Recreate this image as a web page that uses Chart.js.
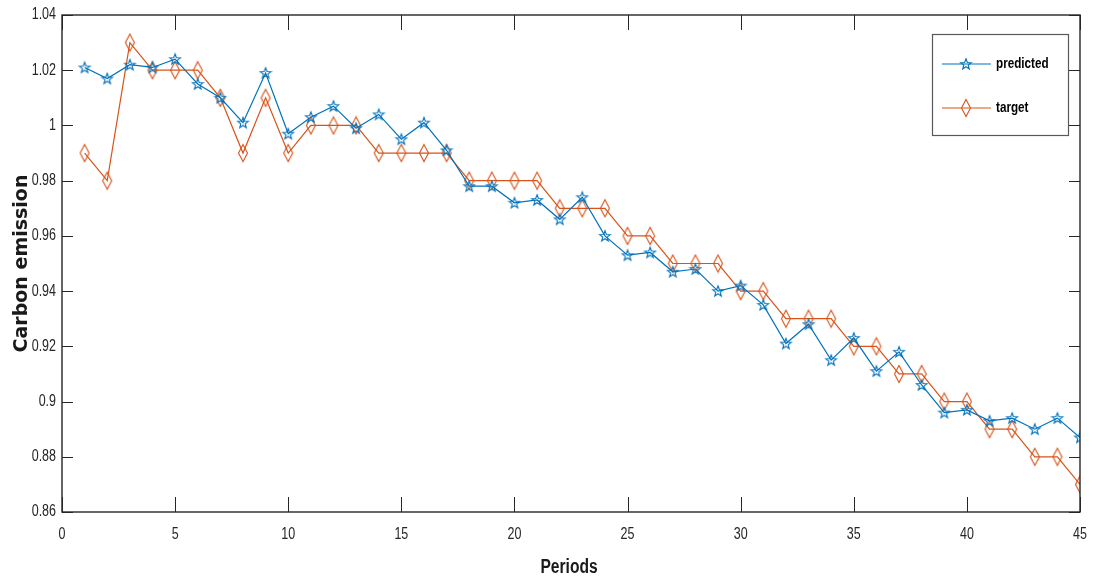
<!DOCTYPE html>
<html>
<head>
<meta charset="utf-8">
<script src="https://cdn.jsdelivr.net/npm/chart.js@4.4.1/dist/chart.umd.min.js"></script>
<style>
    html, body { margin: 0; padding: 0; background: #fff; }
    #wrap { width: 1095px; height: 581px; }
</style>
</head>
<body>
<div id="wrap"><canvas id="chart" width="1095" height="581"></canvas></div>
<script>
// Periods 1..45 and the two series
const periods = [1,2,3,4,5,6,7,8,9,10,11,12,13,14,15,16,17,18,19,20,21,22,23,24,25,26,27,28,29,30,31,32,33,34,35,36,37,38,39,40,41,42,43,44,45];
const predicted = [1.021,1.017,1.022,1.021,1.024,1.015,1.010,1.001,1.019,0.997,1.003,1.007,0.999,1.004,0.995,1.001,0.991,0.978,0.978,0.972,0.973,0.966,0.974,0.960,0.953,0.954,0.947,0.948,0.940,0.942,0.935,0.921,0.928,0.915,0.923,0.911,0.918,0.906,0.896,0.897,0.893,0.894,0.890,0.894,0.887];
const target = [0.99,0.98,1.03,1.02,1.02,1.02,1.01,0.99,1.01,0.99,1.00,1.00,1.00,0.99,0.99,0.99,0.99,0.98,0.98,0.98,0.98,0.97,0.97,0.97,0.96,0.96,0.95,0.95,0.95,0.94,0.94,0.93,0.93,0.93,0.92,0.92,0.91,0.91,0.90,0.90,0.89,0.89,0.88,0.88,0.87];

const xTicks = [0,5,10,15,20,25,30,35,40,45];
const yTicks = [0.86,0.88,0.9,0.92,0.94,0.96,0.98,1,1.02,1.04];
const xTitle = 'Periods';
const yTitle = 'Carbon emission';

const BLUE = '#0072BD';
const ORANGE = '#D95319';
const AXIS = '#262626';
const FONT = "'Liberation Sans', Arial, sans-serif";
const NARROW = 0.78;   // MATLAB's Helvetica renders condensed

// marker images (MATLAB pentagram / diamond)
function starMarker(color) {
    const c = document.createElement('canvas');
    c.width = 14; c.height = 14;
    const g = c.getContext('2d');
    g.strokeStyle = color; g.lineWidth = 1.1;
    g.beginPath();
    for (let i = 0; i < 10; i++) {
        const r = i % 2 === 0 ? 5.6 : 2.3;
        const a = -Math.PI / 2 + i * Math.PI / 5;
        const px = 7 + r * Math.cos(a), py = 7.4 + r * Math.sin(a);
        if (i === 0) g.moveTo(px, py); else g.lineTo(px, py);
    }
    g.closePath();
    g.stroke();
    return c;
}
function diamondMarker(color) {
    const c = document.createElement('canvas');
    c.width = 12; c.height = 20;
    const g = c.getContext('2d');
    g.strokeStyle = color; g.lineWidth = 1.1;
    g.beginPath();
    g.moveTo(6, 1.5); g.lineTo(10.5, 10); g.lineTo(6, 18.5); g.lineTo(1.5, 10);
    g.closePath();
    g.stroke();
    return c;
}
const starImg = starMarker(BLUE);
const diamondImg = diamondMarker(ORANGE);

function narrowText(ctx, text, x, y, align, scaleX) {
    ctx.save();
    ctx.translate(x, y);
    ctx.scale(scaleX, 1);
    ctx.textAlign = align;
    ctx.fillText(text, 0, 0);
    ctx.restore();
}

// box, inward ticks on all four sides, tick labels, titles, legend
const boxPlugin = {
    id: 'box',
    afterDraw(chart) {
        const {ctx, chartArea: a, scales: {x, y}} = chart;
        ctx.save();
        ctx.strokeStyle = AXIS;
        ctx.lineWidth = 1.4;
        ctx.strokeRect(a.left, a.top, a.right - a.left, a.bottom - a.top);
        ctx.lineWidth = 1;
        ctx.beginPath();
        x.ticks.forEach(t => {
            const px = Math.round(x.getPixelForValue(t.value)) + 0.5;
            ctx.moveTo(px, a.bottom); ctx.lineTo(px, a.bottom - 15);
            ctx.moveTo(px, a.top); ctx.lineTo(px, a.top + 15);
        });
        y.ticks.forEach(t => {
            const py = Math.round(y.getPixelForValue(t.value)) + 0.5;
            ctx.moveTo(a.left, py); ctx.lineTo(a.left + 11, py);
            ctx.moveTo(a.right, py); ctx.lineTo(a.right - 11, py);
        });
        ctx.stroke();

        // tick labels
        ctx.fillStyle = AXIS;
        ctx.font = '16px ' + FONT;
        ctx.textBaseline = 'middle';
        x.ticks.forEach(t => {
            narrowText(ctx, String(t.value), x.getPixelForValue(t.value), a.bottom + 23, 'center', NARROW);
        });
        y.ticks.forEach(t => {
            narrowText(ctx, String(parseFloat(t.value.toFixed(2))), a.left - 6, y.getPixelForValue(t.value), 'right', NARROW);
        });

        // axis titles
        ctx.fillStyle = '#1a1a1a';
        ctx.font = 'bold 20px ' + FONT;
        ctx.textBaseline = 'alphabetic';
        narrowText(ctx, xTitle, (a.left + a.right) / 2 - 2, 573, 'center', 0.78);
        ctx.save();
        ctx.translate(27, (a.top + a.bottom) / 2);
        ctx.rotate(-Math.PI / 2);
        ctx.font = "bold 19px 'DejaVu Sans', sans-serif";
        ctx.textAlign = 'center';
        ctx.fillText(yTitle, 0, 0);
        ctx.restore();

        // legend
        const lx = 932, ly = 34, lw = 136, lh = 101;
        ctx.fillStyle = '#fff';
        ctx.fillRect(lx, ly, lw, lh);
        ctx.strokeStyle = '#595959';
        ctx.lineWidth = 1.2;
        ctx.strokeRect(lx + 0.5, ly + 0.5, lw, lh);
        const rows = [
            {ds: chart.data.datasets[0], img: starImg, yy: 64},
            {ds: chart.data.datasets[1], img: diamondImg, yy: 108}
        ];
        rows.forEach(r => {
            ctx.strokeStyle = r.ds.borderColor;
            ctx.lineWidth = 1.2;
            ctx.beginPath();
            ctx.moveTo(942, r.yy); ctx.lineTo(991, r.yy);
            ctx.stroke();
            ctx.drawImage(r.img, 966 - r.img.width / 2, r.yy - r.img.height / 2);
            ctx.fillStyle = '#000';
            ctx.font = 'bold 15px ' + FONT;
            ctx.textBaseline = 'middle';
            narrowText(ctx, r.ds.label, 996, r.yy, 'left', 0.78);
        });
        ctx.restore();
    }
};

new Chart(document.getElementById('chart'), {
    type: 'line',
    data: {
        datasets: [
            {
                label: 'predicted',
                data: periods.map((p, i) => ({x: p, y: predicted[i]})),
                borderColor: BLUE,
                borderWidth: 1.2,
                pointStyle: starImg,
                pointRadius: 6,
                tension: 0,
                fill: false
            },
            {
                label: 'target',
                data: periods.map((p, i) => ({x: p, y: target[i]})),
                borderColor: ORANGE,
                borderWidth: 1.2,
                pointStyle: diamondImg,
                pointRadius: 8,
                tension: 0,
                fill: false
            }
        ]
    },
    options: {
        responsive: false,
        animation: false,
        layout: { padding: { top: 15, right: 15, left: 0, bottom: 0 } },
        plugins: {
            legend: { display: false },
            tooltip: { enabled: false }
        },
        scales: {
            x: {
                type: 'linear',
                min: 0, max: 45,
                afterBuildTicks: s => { s.ticks = xTicks.map(v => ({value: v})); },
                afterFit: s => { s.height = 69; },
                grid: { display: false, drawTicks: false },
                border: { display: false },
                ticks: { display: false }
            },
            y: {
                min: 0.86, max: 1.04,
                afterBuildTicks: s => { s.ticks = yTicks.map(v => ({value: v})); },
                afterFit: s => { s.width = 62; },
                grid: { display: false, drawTicks: false },
                border: { display: false },
                ticks: { display: false }
            }
        }
    },
    plugins: [boxPlugin]
});
</script>
</body>
</html>
